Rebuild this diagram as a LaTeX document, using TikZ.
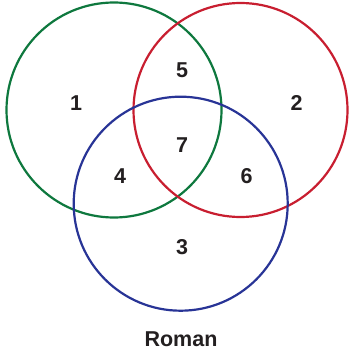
\documentclass[tikz,border=0pt]{standalone}
\usepackage{fontspec}
\setmainfont{Liberation Sans}
\definecolor{vgreen}{RGB}{14,120,62}
\definecolor{vred}{RGB}{200,30,48}
\definecolor{vblue}{RGB}{40,52,150}
\definecolor{txt}{RGB}{35,31,32}
\begin{document}
\begin{tikzpicture}[x=1pt,y=-1pt,
  ring/.style={line width=2.2pt},
  lbl/.style={anchor=base,inner sep=0pt,text=txt,font=\fontsize{21.5}{24}\selectfont\bfseries}]
\useasboundingbox (0,0) rectangle (348,358);
\draw[ring,vgreen] (114,110) circle[radius=107.5];
\draw[ring,vred] (240.5,110) circle[radius=107];
\draw[ring,vblue] (180.7,203.7) circle[radius=107];
\node[lbl] (n1) at (76,110.5) {1};
\node[lbl] (n2) at (296.7,110.5) {2};
\node[lbl] (n5) at (182,77.5) {5};
\node[lbl] (n7) at (182,153) {7};
\node[lbl] (n4) at (120,183) {4};
\node[lbl] (n6) at (246.7,183) {6};
\node[lbl] (n3) at (182,254) {3};
\node[lbl] (title) at (181,346.7) {Roman};
\end{tikzpicture}
\end{document}
